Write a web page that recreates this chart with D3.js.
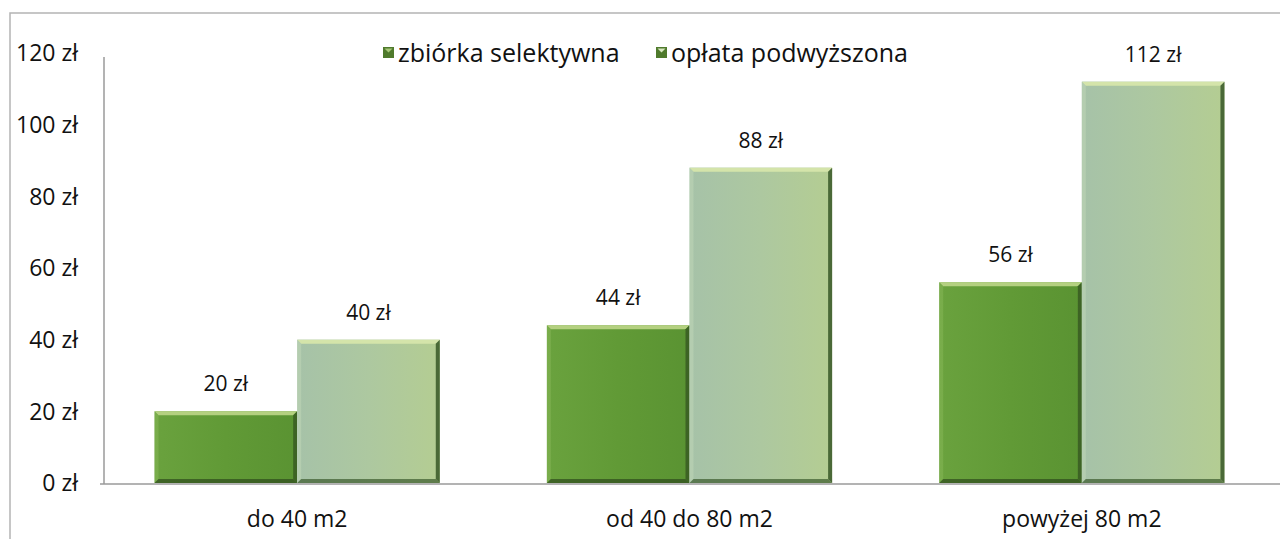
<!DOCTYPE html>
<html>
<head>
<meta charset="utf-8">
<script src="https://cdn.jsdelivr.net/npm/d3@7"></script>
<style>
  body { margin: 0; background: #fff; }
  text { font-family: "Open Sans", sans-serif; fill: #111; }
</style>
</head>
<body>
<div id="chart"></div>
<script>
const categories = ["do 40 m2", "od 40 do 80 m2", "powyżej 80 m2"];
const seriesNames = ["zbiórka selektywna", "opłata podwyższona"];
const selektywna = [20, 44, 56];
const podwyzszona = [40, 88, 112];
const yTicks = [0, 20, 40, 60, 80, 100, 120];

const width = 1280;
const height = 539;

const rows = categories.map((c, i) => ({
    cat: c,
    values: [
        { key: seriesNames[0], s: 0, v: selektywna[i] },
        { key: seriesNames[1], s: 1, v: podwyzszona[i] }
    ]
}));

const svg = d3.select('#chart')
    .append('svg')
        .attr('width', width)
        .attr('height', height);

// bar gradients
const defs = svg.append('defs');
const grads = [
    { id: 'g0', stops: ['#6aa23e', '#619a36', '#5a9332'] },
    { id: 'g1', stops: ['#a6c2a8', '#adc8a0', '#b4cd92'] }
];
grads.forEach(g => {
    const lg = defs.append('linearGradient')
        .attr('id', g.id)
        .attr('x1', 0).attr('x2', 1).attr('y1', 0).attr('y2', 0);
    g.stops.forEach((c, i) => lg.append('stop')
        .attr('offset', i / (g.stops.length - 1))
        .attr('stop-color', c));
});
const bevel = [
    { top: '#b4d080', left: '#88b858', right: '#3a5e22', bottom: '#2e4a1c' },
    { top: '#d4e4aa', left: '#c2d8b8', right: '#3e5e2e', bottom: '#3a5a2c' }
];

// outer frame
svg.append('rect')
    .attr('x', 10).attr('y', 13)
    .attr('width', width).attr('height', height)
    .attr('fill', 'none')
    .attr('stroke', '#b4b4b4')
    .attr('stroke-width', 1.5);

const x0 = d3.scaleBand()
    .domain(categories)
    .range([101, 1278])
    .paddingInner(0.273)
    .paddingOuter(0.1365);

const x1 = d3.scaleBand()
    .domain([0, 1])
    .range([0, x0.bandwidth()]);

const y = d3.scaleLinear()
    .domain([0, 120])
    .range([483, 53]);

// y axis line
svg.append('line')
    .attr('x1', 104).attr('x2', 104)
    .attr('y1', 57).attr('y2', y(0) + 1)
    .attr('stroke', '#9a9a9a')
    .attr('stroke-width', 1.5);

// tick labels
svg.selectAll('.ytick')
    .data(yTicks)
    .join('text')
        .attr('class', 'ytick')
        .attr('x', 78)
        .attr('y', d => y(d))
        .attr('dy', '0.36em')
        .attr('text-anchor', 'end')
        .attr('font-size', 23)
        .text(d => d + ' zł');

// bars
const groups = svg.selectAll('.grp')
    .data(rows)
    .join('g')
        .attr('class', 'grp')
        .attr('transform', d => `translate(${x0(d.cat)},0)`);

const b = 4; // bevel width
groups.selectAll('g.bar')
    .data(d => d.values)
    .join('g')
        .attr('class', 'bar')
        .each(function(d) {
            const g = d3.select(this);
            const bx = x1(d.s), bw = x1.bandwidth();
            const by = y(d.v), bh = y(0) - y(d.v);
            const c = bevel[d.s];
            g.append('rect')
                .attr('x', bx).attr('y', by)
                .attr('width', bw).attr('height', bh)
                .attr('fill', `url(#g${d.s})`);
            // top bevel
            g.append('path')
                .attr('d', `M${bx},${by}h${bw}l${-b},${b}h${-(bw - 2 * b)}z`)
                .attr('fill', c.top);
            // left bevel
            g.append('path')
                .attr('d', `M${bx},${by}l${b},${b}v${bh - 2 * b}l${-b},${b}z`)
                .attr('fill', c.left)
                .attr('opacity', 0.5);
            // right bevel
            g.append('path')
                .attr('d', `M${bx + bw},${by}l${-b},${b}v${bh - 2 * b}l${b},${b}z`)
                .attr('fill', c.right)
                .attr('opacity', 0.9);
            // bottom bevel
            g.append('path')
                .attr('d', `M${bx},${by + bh}l${b},${-b}h${bw - 2 * b}l${b},${b}z`)
                .attr('fill', c.bottom)
                .attr('opacity', 0.7);
        });

// value labels
groups.selectAll('.val')
    .data(d => d.values)
    .join('text')
        .attr('class', 'val')
        .attr('x', d => x1(d.s) + x1.bandwidth() / 2)
        .attr('y', d => y(d.v) - 20)
        .attr('text-anchor', 'middle')
        .attr('font-size', 21)
        .text(d => d.v + ' zł');

// baseline
svg.append('line')
    .attr('x1', 100).attr('x2', width)
    .attr('y1', y(0) + 1).attr('y2', y(0) + 1)
    .attr('stroke', '#9a9a9a')
    .attr('stroke-width', 1.5);

// category labels
svg.selectAll('.cat')
    .data(categories)
    .join('text')
        .attr('class', 'cat')
        .attr('x', d => x0(d) + x0.bandwidth() / 2)
        .attr('y', 527)
        .attr('text-anchor', 'middle')
        .attr('font-size', 23)
        .text(d => d);

// legend
const legendX = [383, 656];
const legend = svg.selectAll('.leg')
    .data(seriesNames)
    .join('g')
        .attr('class', 'leg')
        .attr('transform', (d, i) => `translate(${legendX[i]},47)`);
legend.append('rect')
    .attr('width', 11).attr('height', 11)
    .attr('fill', '#4f7a2c');
legend.append('path')
    .attr('d', 'M1.5,1.5h8l-4,4z')
    .attr('fill', (d, i) => i === 0 ? '#a8c878' : '#d8e8c0');
legend.append('text')
    .attr('x', 15)
    .attr('y', 5.5)
    .attr('dy', '0.36em')
    .attr('font-size', 25)
    .text(d => d);
</script>
</body>
</html>
